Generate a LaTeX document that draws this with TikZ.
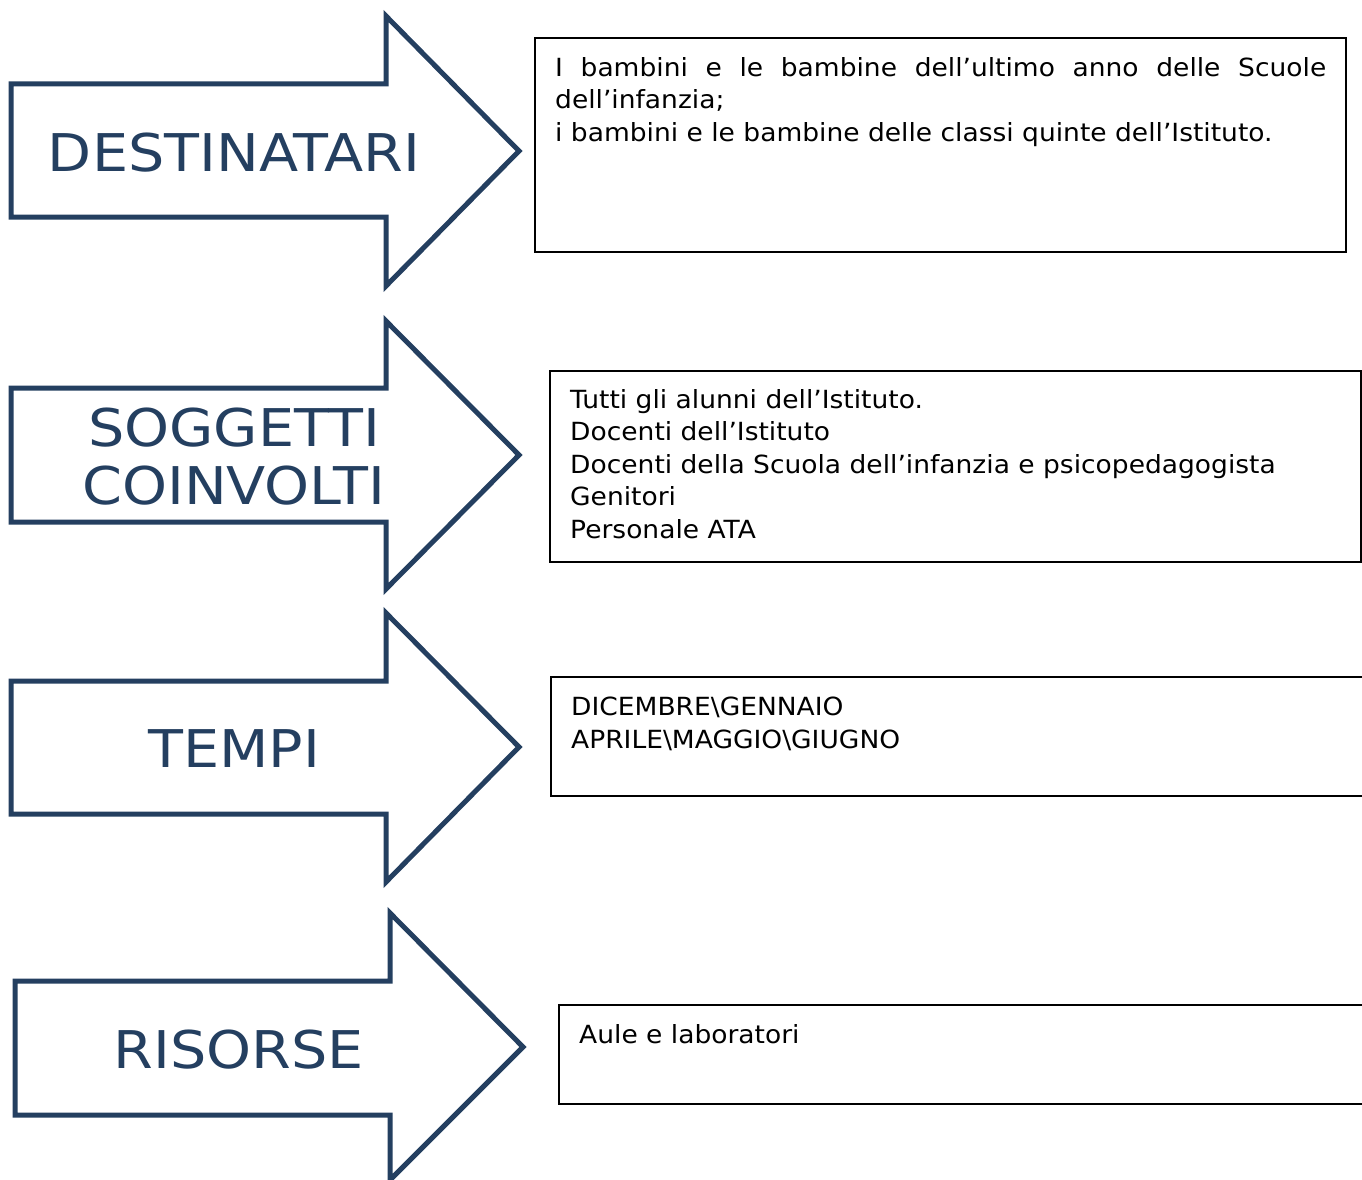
\documentclass[tikz,border=0pt]{standalone}
\usepackage{fontspec}
\setmainfont{DejaVu Sans}
\newfontfamily\labelfont[FakeStretch=1.1]{DejaVu Sans}
\newfontfamily\boxfont[FakeStretch=1.06]{DejaVu Sans}
\usetikzlibrary{positioning}
\definecolor{arrowblue}{RGB}{36,63,96}
\tikzset{
  bigarrow/.style={draw=arrowblue, line width=5pt, line join=miter},
  arrowlabel/.style={text=arrowblue, inner sep=0pt, align=center,
    font=\labelfont\fontsize{52}{58}\selectfont},
  infobox/.style={draw=black, line width=1.5pt},
  infotext/.style={anchor=north west, inner sep=0pt, align=left,
    font=\boxfont\fontsize{25}{32.5}\selectfont},
}
\begin{document}
\begin{tikzpicture}[x=1pt, y=-1pt]
\useasboundingbox (0,0) rectangle (1362,1180);
% arrows
\draw[bigarrow] (11,84) -- (386,84) -- (386,16) -- (519,151) -- (386,286) -- (386,217) -- (11,217) -- cycle;
\draw[bigarrow] (11,388) -- (386,388) -- (386,321) -- (519,455) -- (386,589) -- (386,522) -- (11,522) -- cycle;
\draw[bigarrow] (11,681) -- (386,681) -- (386,613) -- (519,747) -- (386,882) -- (386,814) -- (11,814) -- cycle;
\draw[bigarrow] (15,981) -- (390,981) -- (390,913) -- (523,1047) -- (390,1180) -- (390,1115) -- (15,1115) -- cycle;
\node[arrowlabel] (dest) at (234,153) {DESTINATARI};
\node[arrowlabel] (sogg) at (234,457) {SOGGETTI\\COINVOLTI};
\node[arrowlabel] (tempi) at (234,749) {TEMPI};
\node[arrowlabel] (ris) at (239,1050) {RISORSE};
% boxes
\draw[infobox] (535,38) rectangle (1346,252);
\draw[infobox] (550,371) rectangle (1361,562);
\draw[infobox] (1362,677) -- (551,677) -- (551,796) -- (1362,796);
\draw[infobox] (1362,1005) -- (559,1005) -- (559,1104) -- (1362,1104);
\node[infotext, text width=771pt, align=justify] (destbox) at (555,57)
  {I bambini e le bambine dell’ultimo anno delle Scuole dell’infanzia;\\
   i bambini e le bambine delle classi quinte dell’Istituto.};
\node[infotext] (soggbox) at (570,389)
  {Tutti gli alunni dell’Istituto.\\
   Docenti dell’Istituto\\
   Docenti della Scuola dell’infanzia e psicopedagogista\\
   Genitori\\
   Personale ATA};
\node[infotext] (tempibox) at (571,697)
  {DICEMBRE\textbackslash GENNAIO\\
   APRILE\textbackslash MAGGIO\textbackslash GIUGNO};
\node[infotext] (risbox) at (579,1024) {Aule e laboratori};
\end{tikzpicture}
\end{document}
